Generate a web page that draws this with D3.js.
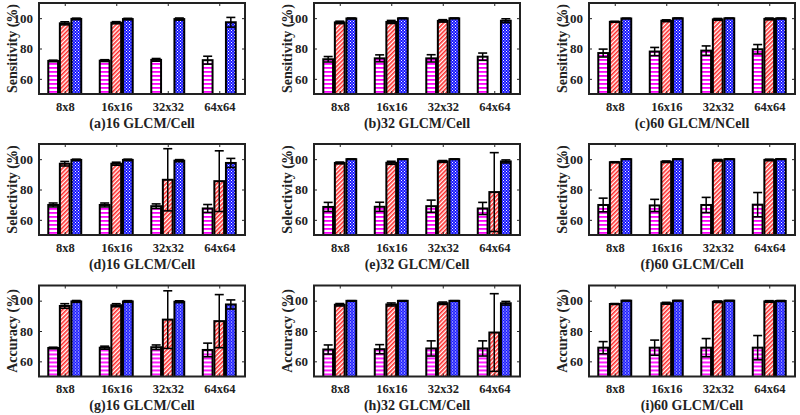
<!DOCTYPE html>
<html><head><meta charset="utf-8">
<script src="https://cdn.jsdelivr.net/npm/d3@7"></script>
<style>
body{margin:0;background:#fff;}
svg{display:block;}
text{font-family:"Liberation Serif","Times New Roman",serif;font-weight:bold;fill:#222;}
</style></head>
<body><svg id="c" width="800" height="415"></svg>
<script>
const categories = ["8x8","16x16","32x32","64x64"];
const yTicks = [60,80,100];
const metricLabels = ["Sensitivity (%)","Selectivity (%)","Accuracy (%)"];
const panelTitles = ["(a)16 GLCM/Cell","(b)32 GLCM/Cell","(c)60 GLCM/NCell",
                     "(d)16 GLCM/Cell","(e)32 GLCM/Cell","(f)60 GLCM/Cell",
                     "(g)16 GLCM/Cell","(h)32 GLCM/Cell","(i)60 GLCM/Cell"];
// each row: [magenta, red, blue] for 8x8,16x16,32x32,64x64 ; null = below axis
const aMean = [[71.8,96.6,99.5],[72.0,97.0,99.4],[72.5,null,99.4],[72.3,null,97.3]];
const aErr  = [[0.5,1.0,0.5],[0.6,0.7,0.5],[0.9,0,0.7],[2.6,0,3.2]];
const bMean = [[72.9,97.2,99.8],[73.5,97.5,99.9],[73.5,98.2,99.9],[74.6,null,98.3]];
const bErr  = [[1.8,0.8,0.3],[2.3,1.0,0.2],[2.4,0.8,0.2],[2.4,0,1.3]];
const cMean = [[77.0,97.6,99.8],[78.0,98.3,99.9],[78.6,99.2,99.9],[79.5,99.5,99.8]];
const cErr  = [[2.6,0.3,0.2],[2.7,0.6,0.2],[3.1,0.6,0.1],[3.1,0.6,0.3]];
const dMean = [[69.8,97.0,99.5],[69.8,97.0,99.5],[69.0,86.4,99.0],[67.5,85.5,97.5]];
const dErr  = [[1.3,1.5,0.5],[1.3,1.0,0.5],[1.5,20.5,0.7],[2.6,20.0,3.0]];
const eMean = [[68.5,97.5,100.0],[68.6,97.6,100.0],[69.0,98.5,100.0],[67.5,78.3,98.5]];
const eErr  = [[3.0,0.6,0.1],[3.0,1.0,0.1],[4.0,0.6,0.1],[4.0,26.0,1.0]];
const fMean = [[69.8,98.0,100.0],[69.5,98.3,100.0],[69.8,99.3,100.0],[70.0,99.5,100.0]];
const fErr  = [[4.5,0.3,0.1],[4.0,0.5,0.1],[5.0,0.5,0.1],[8.0,0.5,0.1]];
const gMean = [[68.8,96.5,99.5],[69.0,97.0,99.5],[69.3,87.5,99.3],[67.5,86.5,97.5]];
const gErr  = [[0.5,1.5,0.6],[1.0,1.0,0.5],[1.5,19.0,0.6],[4.5,17.5,3.0]];
const hMean = [[67.8,97.3,99.9],[68.0,97.5,99.9],[68.5,98.3,99.9],[68.5,79.0,98.3]];
const hErr  = [[3.0,0.8,0.1],[3.0,1.0,0.1],[5.0,0.8,0.1],[5.0,25.6,1.2]];
const iMean = [[69.0,97.8,100.0],[69.0,98.3,100.0],[69.0,99.3,100.0],[69.0,99.5,99.8]];
const iErr  = [[4.0,0.3,0.1],[5.0,0.6,0.1],[6.0,0.5,0.1],[8.0,0.5,0.3]];

const panelMeans = [aMean,bMean,cMean,dMean,eMean,fMean,gMean,hMean,iMean];
const panelErrs  = [aErr,bErr,cErr,dErr,eErr,fErr,gErr,hErr,iErr];

const svg = d3.select("#c");
const defs = svg.append("defs");
// patterns
const pM = defs.append("pattern").attr("id","pM").attr("patternUnits","userSpaceOnUse").attr("width",4).attr("height",4);
pM.append("rect").attr("width",4).attr("height",4).attr("fill","#fff");
pM.append("rect").attr("y",0).attr("width",4).attr("height",1.8).attr("fill","#ff00ff");
const pR = defs.append("pattern").attr("id","pR").attr("patternUnits","userSpaceOnUse").attr("width",3).attr("height",3).attr("patternTransform","rotate(45)");
pR.append("rect").attr("width",3).attr("height",3).attr("fill","#fff");
pR.append("rect").attr("width",1.6).attr("height",3).attr("fill","#ff2a2a");
const pB = defs.append("pattern").attr("id","pB").attr("patternUnits","userSpaceOnUse").attr("width",3).attr("height",3);
pB.append("rect").attr("width",3).attr("height",3).attr("fill","#1414ff");
pB.append("rect").attr("x",0).attr("y",0).attr("width",1).attr("height",1).attr("fill","#fff");
pB.append("rect").attr("x",1.5).attr("y",1.5).attr("width",1).attr("height",1).attr("fill","#fff");
const fills = ["url(#pM)","url(#pR)","url(#pB)"];

const colX = [39,314,589], rowY = [3,144,285.5];
const W = 206, H = 91;
const barW = 0.19, offs = [-0.225,0,0.225];

panelMeans.forEach((means,pi)=>{
  const r = Math.floor(pi/3), c = pi%3;
  const g = svg.append("g").attr("transform",`translate(${colX[c]},${rowY[r]})`);
  const x = d3.scaleLinear().domain([0.5,4.5]).range([0,W]);
  const y = d3.scaleLinear().domain([50,110]).range([H,0]);
  const cid = "clip"+pi;
  defs.append("clipPath").attr("id",cid).append("rect").attr("width",W).attr("height",H);
  const plot = g.append("g").attr("clip-path",`url(#${cid})`);
  means.forEach((row,ci)=>{
    row.forEach((v,si)=>{
      if(v===null) return;
      const xc = x(ci+1+offs[si]);
      const bw = x(barW)-x(0);
      plot.append("rect").attr("x",xc-bw/2).attr("y",y(v)).attr("width",bw).attr("height",H-y(v)+4)
        .attr("fill",fills[si]).attr("stroke","#000").attr("stroke-width",2);
    });
  });
  // error bars
  means.forEach((row,ci)=>{
    row.forEach((v,si)=>{
      if(v===null) return;
      const e = panelErrs[pi][ci][si];
      const xc = x(ci+1+offs[si]);
      const cw = 4.5;
      const y1 = y(v+e), y0 = y(v-e);
      g.append("line").attr("x1",xc).attr("x2",xc).attr("y1",y1).attr("y2",y0).attr("stroke","#000").attr("stroke-width",1.5);
      g.append("line").attr("x1",xc-cw).attr("x2",xc+cw).attr("y1",y1).attr("y2",y1).attr("stroke","#000").attr("stroke-width",1.6);
      g.append("line").attr("x1",xc-cw).attr("x2",xc+cw).attr("y1",y0).attr("y2",y0).attr("stroke","#000").attr("stroke-width",1.6);
    });
  });
  // axes
  const yl = d3.axisLeft(y).tickValues(yTicks).tickSize(-3).tickPadding(6);
  const ya = g.append("g").call(yl);
  ya.select(".domain").remove();
  ya.selectAll("text").attr("font-size",13).attr("font-family","Liberation Serif").attr("font-weight","bold").attr("fill","#222");
  ya.selectAll("line").attr("stroke","#222");
  const yr = d3.axisRight(y).tickValues(yTicks).tickSize(-3).tickFormat("");
  const yra = g.append("g").attr("transform",`translate(${W},0)`).call(yr);
  yra.select(".domain").remove();
  yra.selectAll("line").attr("stroke","#222");
  const xb = d3.axisBottom(x).tickValues([1,2,3,4]).tickFormat(d=>categories[d-1]).tickSize(-3).tickPadding(8);
  const xa = g.append("g").attr("transform",`translate(0,${H})`).call(xb);
  xa.select(".domain").remove();
  xa.selectAll("text").attr("font-size",12.5).attr("font-family","Liberation Serif").attr("font-weight","bold").attr("fill","#222");
  xa.selectAll("line").attr("stroke","#222");
  const xt = d3.axisTop(x).tickValues([1,2,3,4]).tickSize(-3).tickFormat("");
  const xta = g.append("g").call(xt);
  xta.select(".domain").remove();
  xta.selectAll("line").attr("stroke","#222");
  g.append("rect").attr("width",W).attr("height",H).attr("fill","none").attr("stroke","#222").attr("stroke-width",2);
  g.append("text").attr("x",W/2).attr("y",H+33.5).attr("text-anchor","middle").attr("font-size",14).text(panelTitles[pi]);
  g.append("text").attr("transform",`translate(-22,${H/2}) rotate(-90)`).attr("text-anchor","middle").attr("font-size",14).text(metricLabels[r]);
});
</script></body></html>
